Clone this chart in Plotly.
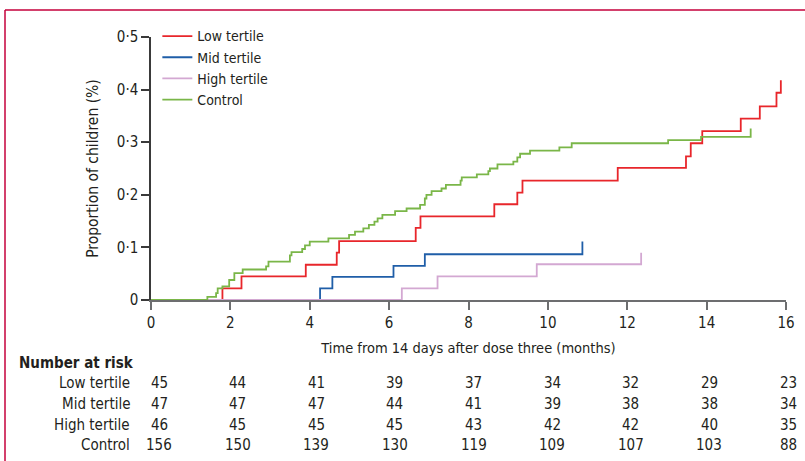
import plotly.graph_objects as go

# ---------------- data ----------------
low_t = [0, 1.80, 2.28, 3.90, 4.68, 4.74, 6.67, 6.79, 8.65, 9.23, 9.36, 11.76,
         13.48, 13.60, 13.89, 14.86, 15.34, 15.76, 15.87]
low_p = [0, 0.022, 0.045, 0.067, 0.090, 0.112, 0.137, 0.159, 0.182, 0.204, 0.227, 0.251,
         0.273, 0.298, 0.321, 0.345, 0.368, 0.394, 0.418]

mid_t = [0, 4.26, 4.57, 6.11, 6.90, 10.87]
mid_p = [0, 0.022, 0.044, 0.065, 0.087, 0.111]

high_t = [0, 6.32, 7.22, 9.72, 12.35]
high_p = [0, 0.022, 0.045, 0.068, 0.090]

ctrl_t = [0, 1.42, 1.64, 1.68, 1.80, 1.97, 2.10, 2.31, 2.90, 2.96,
          3.50, 3.54, 3.81, 3.88, 4.00, 4.47, 4.99, 5.14, 5.35, 5.49,
          5.63, 5.71, 5.83, 6.15, 6.44, 6.78, 6.90, 6.94, 7.07, 7.32,
          7.43, 7.80, 7.83, 8.21, 8.50, 8.54, 8.73, 9.13, 9.23, 9.30,
          9.55, 10.29, 10.60, 13.03, 13.86, 15.11]
ctrl_p = [0, 0.006, 0.013, 0.022, 0.026, 0.038, 0.051, 0.058, 0.064, 0.073,
          0.085, 0.091, 0.097, 0.104, 0.111, 0.117, 0.124, 0.130, 0.136, 0.143,
          0.149, 0.155, 0.162, 0.169, 0.174, 0.181, 0.193, 0.200, 0.207, 0.212,
          0.219, 0.227, 0.233, 0.239, 0.245, 0.250, 0.258, 0.263, 0.271, 0.278,
          0.284, 0.290, 0.298, 0.304, 0.310, 0.326]

series_names = ["Low tertile", "Mid tertile", "High tertile", "Control"]

x_ticks = [0, 2, 4, 6, 8, 10, 12, 14, 16]
y_tickvals = [0, 0.1, 0.2, 0.3, 0.4, 0.5]
y_ticktext = ["0", "0·1", "0·2", "0·3", "0·4", "0·5"]

risk_low = [45, 44, 41, 39, 37, 34, 32, 29, 23]
risk_mid = [47, 47, 47, 44, 41, 39, 38, 38, 34]
risk_high = [46, 45, 45, 45, 43, 42, 42, 40, 35]
risk_ctrl = [156, 150, 139, 130, 119, 109, 107, 103, 88]

# ---------------- styling ----------------
FONT = "DejaVu Sans Condensed, Liberation Sans Narrow, sans-serif"
TXT = "#231f20"
FS = 15
colors = ["#e8262b", "#1f5ea8", "#d3a8d2", "#7ab648"]

W, H = 805, 461
L, R, T, B = 151, 19, 37, 161
plot_h = H - T - B
plot_w = W - L - R


def py(pix):
    return (H - B - pix) / plot_h


def px(pix):
    return (pix - L) / plot_w


fig = go.Figure()
for name, t, p, c in zip(series_names,
                         [low_t, mid_t, high_t, ctrl_t],
                         [low_p, mid_p, high_p, ctrl_p],
                         colors):
    fig.add_trace(go.Scatter(x=t, y=p, mode="lines", name=name,
                             line=dict(color=c, width=1.8, shape="hv")))

fig.update_layout(
    width=W, height=H,
    margin=dict(l=L, r=R, t=T, b=B, autoexpand=False),
    paper_bgcolor="white", plot_bgcolor="white",
    font=dict(family=FONT, size=FS, color=TXT),
    legend=dict(x=0.01, y=1.063, xanchor="left", yanchor="top",
                bgcolor="rgba(0,0,0,0)", font=dict(size=14),
                tracegroupgap=0, itemwidth=30),
    showlegend=True,
)
fig.update_xaxes(range=[0, 16], tickvals=x_ticks, showgrid=False, zeroline=False,
                 automargin=False,
                 showline=True, linecolor="#6d6e70", linewidth=1.5,
                 ticks="outside", ticklen=8, tickwidth=1.5, tickcolor="#6d6e70",
                 tickfont=dict(size=FS, color=TXT),
                 title=dict(text="Time from 14 days after dose three (months)",
                            font=dict(size=14.5, color=TXT), standoff=12))
fig.update_yaxes(range=[0, 0.5], tickvals=y_tickvals, ticktext=y_ticktext,
                 showgrid=False, zeroline=False, automargin=False,
                 showline=True, linecolor="#3a3a3a", linewidth=1.5,
                 ticks="outside", ticklen=8, tickwidth=1.5, tickcolor="#3a3a3a",
                 tickfont=dict(size=FS, color=TXT),
                 title=dict(text="Proportion of children (%)",
                            font=dict(size=15.5, color=TXT), standoff=14))

# number at risk table
ann = [dict(text="<b>Number at risk</b>", x=px(17), y=py(363), xref="paper", yref="paper",
            xanchor="left", yanchor="middle", showarrow=False, font=dict(size=FS, color=TXT))]
row_y = [383, 404, 425, 445]
for name, vals, yy in zip(series_names, [risk_low, risk_mid, risk_high, risk_ctrl], row_y):
    ann.append(dict(text=name, x=px(132), y=py(yy), xref="paper", yref="paper",
                    xanchor="right", yanchor="middle", showarrow=False,
                    font=dict(size=FS, color=TXT)))
    for i, (xt, v) in enumerate(zip(x_ticks, vals)):
        ann.append(dict(text=str(v), x=xt, y=py(yy), xref="x", yref="paper",
                        xanchor="center", yanchor="middle", showarrow=False,
                        xshift=8 - 0.75 * i, font=dict(size=FS, color=TXT)))
fig.update_layout(annotations=ann)

# crimson frame
frame = "#c4003b"
fig.add_shape(type="line", xref="paper", yref="paper", x0=px(5), x1=px(815), y0=py(10), y1=py(10),
              line=dict(color=frame, width=1.5))
fig.add_shape(type="line", xref="paper", yref="paper", x0=px(5), x1=px(5), y0=py(10), y1=py(470),
              line=dict(color=frame, width=1.5))

fig.write_html("out.html", config={"displayModeBar": False},
               post_script="document.body.style.margin='0';")
